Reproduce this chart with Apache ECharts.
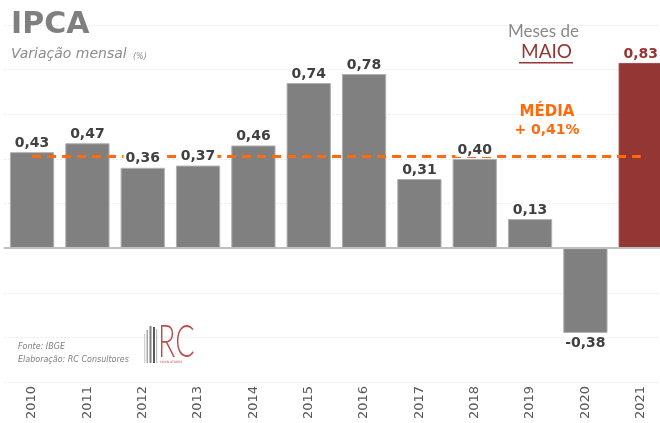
<!DOCTYPE html>
<html><head><meta charset="utf-8">
<script src="https://cdn.jsdelivr.net/npm/echarts@6/dist/echarts.min.js"></script>
<style>html,body{margin:0;padding:0;background:#fff}#c{width:660px;height:423px}</style>
</head><body><div id="c"></div>
<script>
var years = ['2010','2011','2012','2013','2014','2015','2016','2017','2018','2019','2020','2021'];
var values = [0.43,0.47,0.36,0.37,0.46,0.74,0.78,0.31,0.40,0.13,-0.38,0.83];
var average = 0.41;
var yTicks = {min:-0.6, max:1.0, interval:0.2};

var chart = echarts.init(document.getElementById('c'));
var F = 'DejaVu Sans';
var barData = values.map(function(v,i){
  var last = i === values.length-1;
  return {value:v, itemStyle:{color: last ? '#943634' : '#808080', borderColor: last ? '#a04a48' : '#b0b0b0'}};
});
var labelData = values.map(function(v,i){
  var last = i === values.length-1;
  return {value:v, label:{color: last ? '#943634' : '#404040', position: v<0 ? 'bottom' : 'top'}};
});
chart.setOption({
  animation:false,
  grid:{left:4.4, top:25, width:664, height:357, containLabel:false, outerBoundsMode:'none'},
  xAxis:[
    {type:'category', data:years, axisLine:{show:false, onZero:false}, axisTick:{show:false},
      axisLabel:{rotate:90, color:'#595959', fontFamily:F, fontSize:13, margin:4}},
    {type:'category', data:years, position:'bottom', axisLine:{show:true, onZero:true, lineStyle:{color:'#bfbfbf', width:2}},
      axisTick:{show:false}, axisLabel:{show:false}, z:3}
  ],
  yAxis:{type:'value', min:yTicks.min, max:yTicks.max, interval:yTicks.interval,
    axisLabel:{show:false}, axisLine:{show:false}, axisTick:{show:false},
    splitLine:{lineStyle:{color:'#e8e8e8', type:[2,2], width:1}}},
  series:[
    {type:'bar', data:barData, barCategoryGap:'20%', z:2, itemStyle:{borderWidth:1}, silent:true},
    {type:'line', data:[], z:4, silent:true,
      markLine:{silent:true, symbol:'none', z:4, label:{show:false},
        data:[[{xAxis:0, yAxis:average}, {xAxis:11, yAxis:average}]],
        lineStyle:{color:'#ff6a0d', width:3, type:[9,6]}}},
    {type:'bar', data:labelData, barCategoryGap:'20%', barGap:'-100%', z:6, silent:true,
      itemStyle:{color:'rgba(0,0,0,0)'},
      label:{show:true, fontFamily:F, fontWeight:'bold', fontSize:14, distance:2,
        backgroundColor:'#fff', padding:[1,2,0,2],
        formatter:function(p){return p.value.toFixed(2).replace('.',',');}}}
  ],
  graphic:[
    {type:'text', z:10, left:11, top:10, style:{text:'IPCA', font:'bold 30px '+F, fill:'#7f7f7f'}},
    {type:'text', z:10, left:11, top:47, style:{text:'Variação mensal', font:'italic 14px '+F, fill:'#8c8c8c'}},
    {type:'text', z:10, left:133, top:53, style:{text:'(%)', font:'italic 8px '+F, fill:'#8c8c8c'}},
    {type:'text', z:10, left:508, top:23, style:{text:'Meses de', font:'17px Lato', fill:'#8a8a8a'}},
    {type:'text', z:10, left:521, top:42, style:{text:'MAIO', font:'19px Lato', fill:'#943634'}},
    {type:'rect', z:10, shape:{x:519, y:62, width:54, height:1.5}, style:{fill:'#943634'}},
    {type:'text', z:10, x:547, y:105, style:{text:'MÉDIA', font:'bold 15px '+F, fill:'#ff6a0d', align:'center'}},
    {type:'text', z:10, x:547, y:123, style:{text:'+ 0,41%', font:'bold 14px '+F, fill:'#ff6a0d', align:'center'}},
    {type:'text', z:10, left:18, top:343, style:{text:'Fonte: IBGE', font:'italic 8px '+F, fill:'#7f7f7f'}},
    {type:'text', z:10, left:18, top:356, style:{text:'Elaboração: RC Consultores', font:'italic 8px '+F, fill:'#7f7f7f'}},
    {type:'rect', z:10, shape:{x:144, y:334, width:1.2, height:29}, style:{fill:'#d0d0d0'}},
    {type:'rect', z:10, shape:{x:146.5, y:330, width:1.5, height:33}, style:{fill:'#a6a6a6'}},
    {type:'rect', z:10, shape:{x:149.5, y:326, width:2, height:37}, style:{fill:'#7f7f7f'}},
    {type:'rect', z:10, shape:{x:153, y:327, width:2, height:36}, style:{fill:'#595959'}},
    {type:'rect', z:10, shape:{x:156, y:329, width:1.2, height:34}, style:{fill:'#bfbfbf'}},
    {type:'text', z:10, x:158, y:319, scaleX:0.62, style:{text:'RC', font:'300 46px Lato', fill:'#c0504d'}},
    {type:'text', z:10, left:160, top:361, style:{text:'CONSULTORES', font:'3px '+F, fill:'#c0504d'}}
  ]
});
</script></body></html>
